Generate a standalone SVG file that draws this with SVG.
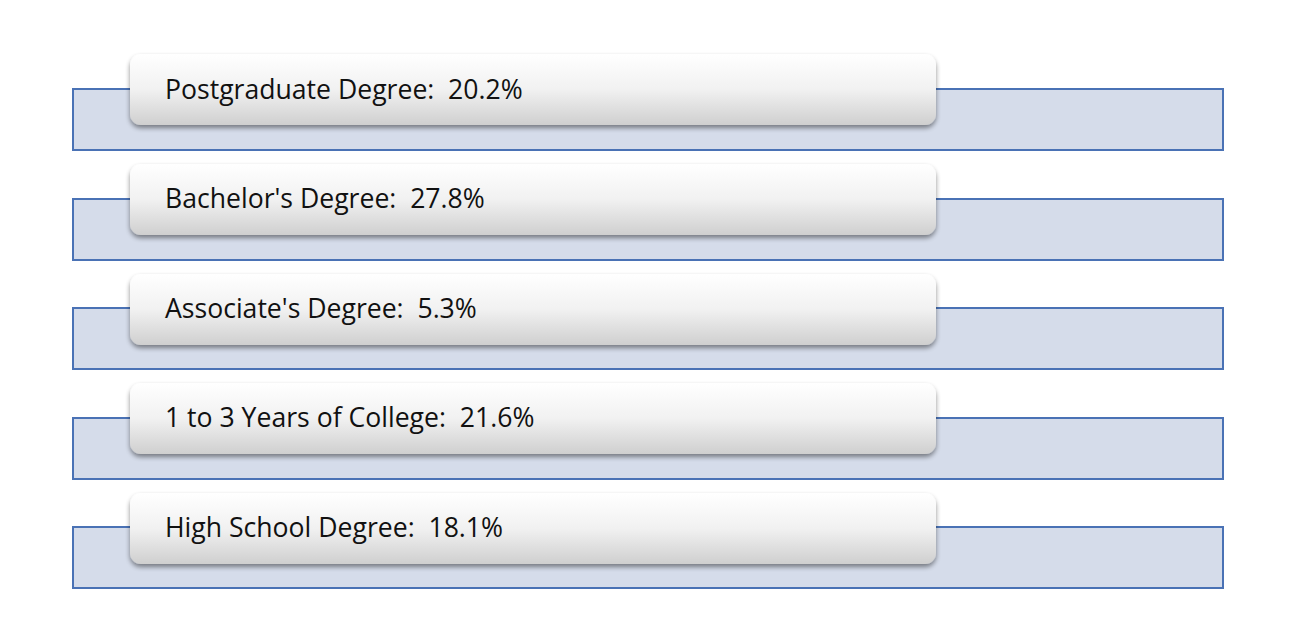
<svg xmlns="http://www.w3.org/2000/svg" width="1300" height="643" viewBox="0 0 1300 643">
<defs>
<linearGradient id="pg" x1="0" y1="0" x2="0" y2="1">
<stop offset="0" stop-color="#ffffff"/>
<stop offset="0.5" stop-color="#f1f1f1"/>
<stop offset="1" stop-color="#cfcfcf"/>
</linearGradient>
<filter id="sh" x="-5%" y="-20%" width="110%" height="150%">
<feGaussianBlur in="SourceAlpha" stdDeviation="2.5"/>
<feOffset dx="0" dy="3" result="b"/>
<feComponentTransfer><feFuncA type="linear" slope="0.45"/></feComponentTransfer>
<feMerge><feMergeNode/><feMergeNode in="SourceGraphic"/></feMerge>
</filter>
</defs>
<style>
.bar{fill:#d5dcea;stroke:#4a72b5;stroke-width:2}
.pill{fill:url(#pg);filter:url(#sh)}
.t{font-family:"Open Sans","Noto Sans",sans-serif;font-size:26.6px;fill:#111;white-space:pre}
</style>
<rect width="1300" height="643" fill="#ffffff"/>
<g id="n1"><rect class="bar" x="73" y="89" width="1150" height="61"/><rect class="pill" x="130" y="54" width="806" height="71" rx="11"/><text class="t" x="165" y="99" xml:space="preserve">Postgraduate Degree:  20.2%</text></g>
<g id="n2"><rect class="bar" x="73" y="199" width="1150" height="61"/><rect class="pill" x="130" y="164" width="806" height="71" rx="11"/><text class="t" x="165" y="208" xml:space="preserve">Bachelor's Degree:  27.8%</text></g>
<g id="n3"><rect class="bar" x="73" y="308" width="1150" height="61"/><rect class="pill" x="130" y="274" width="806" height="71" rx="11"/><text class="t" x="165" y="318" xml:space="preserve">Associate's Degree:  5.3%</text></g>
<g id="n4"><rect class="bar" x="73" y="418" width="1150" height="61"/><rect class="pill" x="130" y="383" width="806" height="71" rx="11"/><text class="t" x="165" y="427" xml:space="preserve">1 to 3 Years of College:  21.6%</text></g>
<g id="n5"><rect class="bar" x="73" y="527" width="1150" height="61"/><rect class="pill" x="130" y="493" width="806" height="71" rx="11"/><text class="t" x="165" y="537" xml:space="preserve">High School Degree:  18.1%</text></g>
<g id="connectors"/>
</svg>
